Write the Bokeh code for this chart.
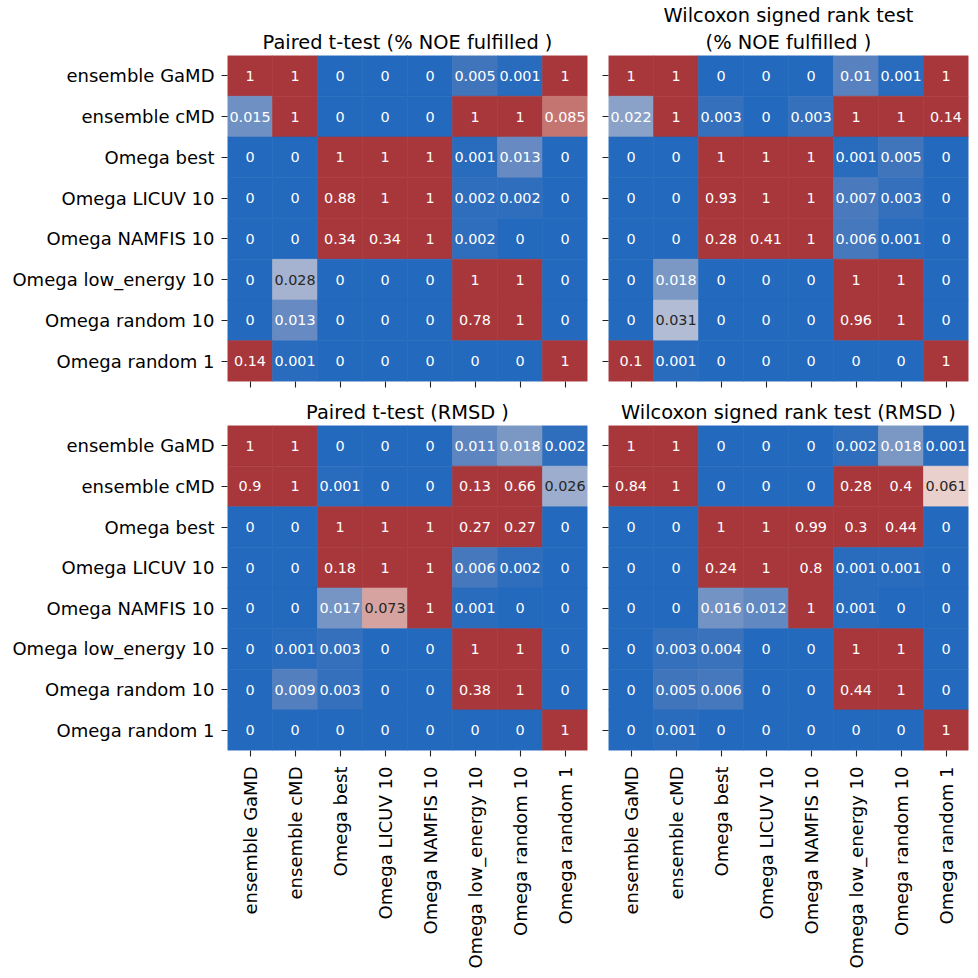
import numpy as np
from bokeh.plotting import figure
from bokeh.models import ColumnDataSource, FactorRange, Title, CustomJSTickFormatter
from bokeh.layouts import gridplot
from bokeh.core.properties import value
from bokeh.embed import file_html
from bokeh.resources import INLINE

labels = ["ensemble GaMD", "ensemble cMD", "Omega best", "Omega LICUV 10",
          "Omega NAMFIS 10", "Omega low_energy 10", "Omega random 10", "Omega random 1"]

# each title as a list of lines (top line first)
titles = [["Paired t-test (% NOE fulfilled )"],
          ["Wilcoxon signed rank test", "(% NOE fulfilled )"],
          ["Paired t-test (RMSD )"],
          ["Wilcoxon signed rank test (RMSD )"]]

ttest_noe = [
    [1, 1, 0, 0, 0, 0.005, 0.001, 1],
    [0.015, 1, 0, 0, 0, 1, 1, 0.085],
    [0, 0, 1, 1, 1, 0.001, 0.013, 0],
    [0, 0, 0.88, 1, 1, 0.002, 0.002, 0],
    [0, 0, 0.34, 0.34, 1, 0.002, 0, 0],
    [0, 0.028, 0, 0, 0, 1, 1, 0],
    [0, 0.013, 0, 0, 0, 0.78, 1, 0],
    [0.14, 0.001, 0, 0, 0, 0, 0, 1],
]
wilcoxon_noe = [
    [1, 1, 0, 0, 0, 0.01, 0.001, 1],
    [0.022, 1, 0.003, 0, 0.003, 1, 1, 0.14],
    [0, 0, 1, 1, 1, 0.001, 0.005, 0],
    [0, 0, 0.93, 1, 1, 0.007, 0.003, 0],
    [0, 0, 0.28, 0.41, 1, 0.006, 0.001, 0],
    [0, 0.018, 0, 0, 0, 1, 1, 0],
    [0, 0.031, 0, 0, 0, 0.96, 1, 0],
    [0.1, 0.001, 0, 0, 0, 0, 0, 1],
]
ttest_rmsd = [
    [1, 1, 0, 0, 0, 0.011, 0.018, 0.002],
    [0.9, 1, 0.001, 0, 0, 0.13, 0.66, 0.026],
    [0, 0, 1, 1, 1, 0.27, 0.27, 0],
    [0, 0, 0.18, 1, 1, 0.006, 0.002, 0],
    [0, 0, 0.017, 0.073, 1, 0.001, 0, 0],
    [0, 0.001, 0.003, 0, 0, 1, 1, 0],
    [0, 0.009, 0.003, 0, 0, 0.38, 1, 0],
    [0, 0, 0, 0, 0, 0, 0, 1],
]
wilcoxon_rmsd = [
    [1, 1, 0, 0, 0, 0.002, 0.018, 0.001],
    [0.84, 1, 0, 0, 0, 0.28, 0.4, 0.061],
    [0, 0, 1, 1, 0.99, 0.3, 0.44, 0],
    [0, 0, 0.24, 1, 0.8, 0.001, 0.001, 0],
    [0, 0, 0.016, 0.012, 1, 0.001, 0, 0],
    [0, 0.003, 0.004, 0, 0, 1, 1, 0],
    [0, 0.005, 0.006, 0, 0, 0.44, 1, 0],
    [0, 0.001, 0, 0, 0, 0, 0, 1],
]

# colour scale (vlag-like, centred at 0.05, saturating at 0.1)
CMAP_STOPS = [0.0, 0.005, 0.01, 0.015, 0.022, 0.028, 0.031, 0.05, 0.061, 0.073, 0.085, 0.1]
CMAP_COLORS = [(35, 105, 189), (64, 117, 188), (88, 130, 191), (111, 144, 195), (139, 162, 200),
               (165, 179, 208), (178, 189, 213), (240, 238, 238), (234, 208, 204),
               (214, 163, 160), (196, 117, 114), (168, 55, 59)]
FONT = "DejaVu Sans"


def _lin(c):
    c = c / 255.0
    return c / 12.92 if c <= 0.04045 else ((c + 0.055) / 1.055) ** 2.4


def cmap(v):
    arr = np.array(CMAP_COLORS, dtype=float)
    rgb = [np.interp(v, CMAP_STOPS, arr[:, k]) for k in range(3)]
    return tuple(int(round(c)) for c in rgb)


def rel_lum(rgb):
    r, g, b = [_lin(c) for c in rgb]
    return 0.2126 * r + 0.7152 * g + 0.0722 * b


def hexc(rgb):
    return "#%02x%02x%02x" % rgb


def style_title(t, standoff):
    t.align = "center"
    t.text_font = FONT
    t.text_font_size = "19.4px"
    t.text_font_style = "normal"
    t.text_color = "black"
    t.standoff = standoff


def make_panel(mat, title_lines, show_x, show_y, borders, frame_h):
    xs, ys, cols, txt, tcol = [], [], [], [], []
    for i, row in enumerate(mat):
        for j, v in enumerate(row):
            xs.append(labels[j]); ys.append(labels[i])
            c = cmap(v)
            cols.append(hexc(c))
            txt.append(format(v, ".2g"))
            tcol.append("#262626" if rel_lum(c) > 0.408 else "#ffffff")
    src = ColumnDataSource(dict(x=xs, y=ys, c=cols, t=txt, tc=tcol))
    left, right, top, bottom = borders
    p = figure(x_range=FactorRange(factors=labels), y_range=FactorRange(factors=labels[::-1]),
               frame_width=360, frame_height=frame_h,
               min_border_left=left, min_border_right=right, min_border_top=top, min_border_bottom=bottom,
               output_backend="svg", toolbar_location=None, title=title_lines[0])
    # the figure's own title sits outermost; titles added afterwards stack closer to the frame
    style_title(p.title, 4 if len(title_lines) == 1 else 0)
    for k, line in enumerate(title_lines[1:]):
        extra = Title(text=line)
        style_title(extra, 4 if k == len(title_lines) - 2 else 0)
        p.add_layout(extra, "above")
    p.rect(x="x", y="y", width=1, height=1, fill_color="c", line_color="c", line_width=0.6, source=src)
    p.text(x="x", y="y", text="t", text_color="tc", text_align="center", text_baseline="middle",
           text_font=value(FONT), text_font_size="14.4px", source=src)
    p.outline_line_color = None
    p.grid.visible = False
    p.background_fill_color = "white"
    for ax in (p.xaxis[0], p.yaxis[0]):
        ax.axis_line_color = None
        ax.major_tick_out = 6
        ax.major_tick_in = 0
        ax.major_tick_line_color = "#222222"
        ax.major_tick_line_width = 1.1
        ax.major_label_text_font = FONT
        ax.major_label_text_font_size = "18px"
        ax.major_label_text_color = "black"
        ax.major_label_standoff = 7
    p.xaxis.major_label_orientation = np.pi / 2
    p.xaxis.major_label_standoff = 10
    blank = CustomJSTickFormatter(code="return '';")
    if not show_x:
        p.xaxis.formatter = blank
        p.xaxis.major_label_text_font_size = "1px"
        p.xaxis.major_label_standoff = 0
    if not show_y:
        p.yaxis.formatter = blank
        p.yaxis.major_label_text_font_size = "1px"
        p.yaxis.major_label_standoff = 0
    return p


p1 = make_panel(ttest_noe, titles[0], False, True, (227, 10, 55, 14), 326)
p2 = make_panel(wilcoxon_noe, titles[1], False, False, (11, 10, 55, 14), 326)
p3 = make_panel(ttest_rmsd, titles[2], True, True, (227, 10, 30, 228), 325)
p4 = make_panel(wilcoxon_rmsd, titles[3], True, False, (11, 10, 30, 228), 325)

grid = gridplot([[p1, p2], [p3, p4]], toolbar_location=None)
open("out.html", "w").write(file_html(grid, INLINE))
